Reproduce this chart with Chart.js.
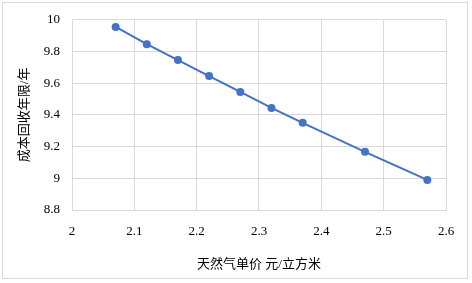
<!DOCTYPE html>
<html>
<head>
<meta charset="utf-8">
<script src="https://cdn.jsdelivr.net/npm/chart.js@4"></script>
<style>
  html, body { margin: 0; padding: 0; background: #fff; }
  #wrap { position: relative; width: 472px; height: 283px; }
  #frame { position: absolute; left: 2px; top: 2px; width: 466px; height: 277px; border: 1px solid #d9d9d9; box-sizing: border-box; pointer-events: none; }
</style>
</head>
<body>
<div id="wrap">
  <canvas id="chart" width="472" height="283"></canvas>
  <div id="frame"></div>
</div>
<script>
// gas price (yuan / m3) vs payback period (years)
const gasPrice = [2.07, 2.12, 2.17, 2.22, 2.27, 2.32, 2.37, 2.47, 2.57];
const paybackYears = [9.955, 9.846, 9.746, 9.645, 9.545, 9.444, 9.35, 9.167, 8.99];
const xTitle = '天然气单价 元/立方米';
const yTitle = '成本回收年限/年';

const fontFamily = "'Liberation Serif', 'Noto Sans CJK SC', serif";
const gridColor = '#d9d9d9';
const blue = '#4472c4';

Chart.defaults.font.family = fontFamily;
Chart.defaults.color = '#000';

const points = gasPrice.map((x, i) => ({ x: x, y: paybackYears[i] }));

// Excel style: 10, 9.8 ... 9, 8.8 (no trailing zeros)
const plainNum = v => String(Number(v.toFixed(2)));

new Chart(document.getElementById('chart').getContext('2d'), {
    type: 'scatter',
    data: {
        datasets: [{
            data: points,
            showLine: true,
            borderColor: blue,
            backgroundColor: blue,
            borderWidth: 2,
            pointRadius: 4,
            pointBorderWidth: 0,
            tension: 0
        }]
    },
    options: {
        responsive: false,
        animation: false,
        layout: { padding: { left: 0, top: 15, right: 26, bottom: 0 } },
        plugins: {
            legend: { display: false },
            tooltip: { enabled: false }
        },
        scales: {
            x: {
                type: 'linear',
                min: 2,
                max: 2.6,
                ticks: { stepSize: 0.1, padding: 14, font: { size: 13 }, callback: plainNum },
                grid: { color: gridColor, tickLength: 0 },
                border: { display: true, color: gridColor },
                title: { display: true, text: xTitle, font: { size: 13, family: fontFamily }, padding: { top: 0, bottom: 11 } },
                afterFit: function(scale) { scale.height = 73; }
            },
            y: {
                min: 8.8,
                max: 10,
                ticks: { stepSize: 0.2, padding: 12, font: { size: 13 }, callback: plainNum },
                grid: { color: gridColor, tickLength: 0 },
                border: { display: true, color: gridColor },
                title: { display: true, text: yTitle, font: { size: 13, family: fontFamily }, padding: { top: 17, bottom: 0 } },
                afterFit: function(scale) { scale.width = 72; }
            }
        }
    }
});
</script>
</body>
</html>
